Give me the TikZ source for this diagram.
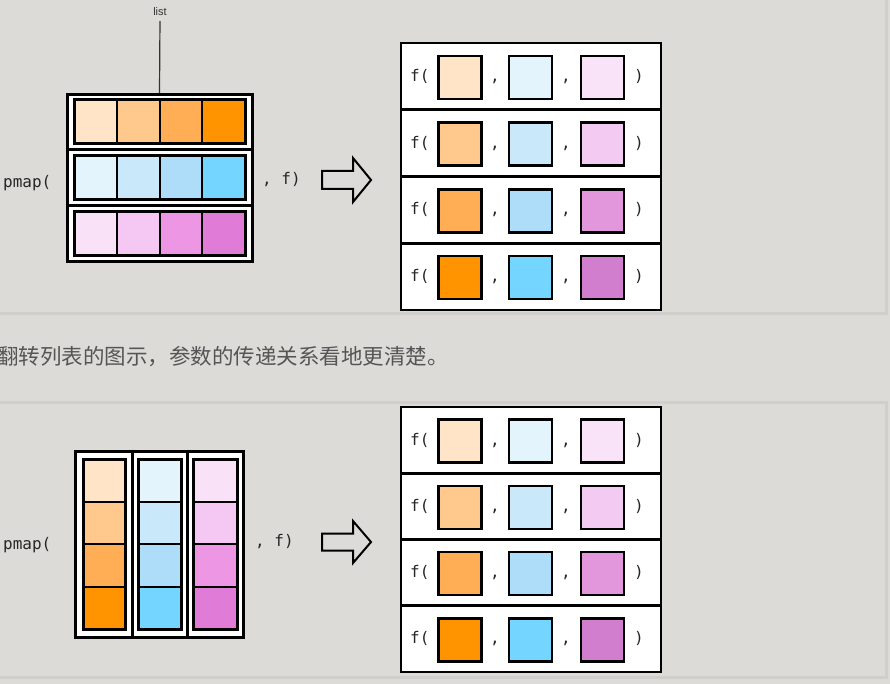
\documentclass[tikz,border=0pt]{standalone}
\usepackage{fontspec}
\newfontfamily\cjk{Noto Sans CJK SC}
\newfontfamily\monof{DejaVu Sans Mono}
\newfontfamily\sansf{Liberation Sans}
\definecolor{bg}{HTML}{DCDBD7}
\definecolor{panelline}{HTML}{D0CFCB}
\definecolor{txtgray}{HTML}{555555}
\definecolor{oA}{HTML}{FFE4C8}
\definecolor{oB}{HTML}{FFC98E}
\definecolor{oC}{HTML}{FFAE55}
\definecolor{oD}{HTML}{FF9400}
\definecolor{bA}{HTML}{E3F4FC}
\definecolor{bB}{HTML}{C9E8FA}
\definecolor{bC}{HTML}{AEDDF9}
\definecolor{bD}{HTML}{74D5FF}
\definecolor{pA}{HTML}{F9E2F8}
\definecolor{pB}{HTML}{F4C8F3}
\definecolor{pC}{HTML}{ED96E3}
\definecolor{pD}{HTML}{E07BD8}
\definecolor{qA}{HTML}{F8E3F8}
\definecolor{qB}{HTML}{F3CAF2}
\definecolor{qC}{HTML}{E297DD}
\definecolor{qD}{HTML}{D27ECF}
\tikzset{
  panel/.style={draw=panelline, line width=3pt, fill=bg},
  code/.style={font=\monof\fontsize{16}{16}\selectfont, inner sep=0pt, text=black!85},
  frame/.style={draw=black, line width=3pt, fill=white, inner sep=0pt},
  inbox/.style={draw=black, line width=3pt, inner sep=0pt},
  celldiv/.style={draw=black, line width=2pt},
  rowbox/.style={draw=black, line width=2.6pt, fill=white, inner sep=0pt, minimum width=260pt},
  sq/.style={draw=black, line width=2.6pt, inner sep=0pt, minimum width=43pt, minimum height=43pt},
  bigarrow/.style={draw=black, line width=2pt, line join=miter},
}
\begin{document}
\begin{tikzpicture}[x=1pt,y=-1pt]
\useasboundingbox (0,0) rectangle (890,684);
\fill[bg] (0,0) rectangle (890,684);
\path[panel] (-5,-5) rectangle (886,313);
\path[panel] (-5,402) rectangle (886,677);

% ---------------- top panel ----------------
\node[font=\sansf\fontsize{11}{11}\selectfont, text=black!80, inner sep=1pt] (list) at (160,12) {list};
\node[frame, minimum width=185pt, minimum height=167pt] (outerA) at (159.5,178.25) {};
\draw[line width=3pt] (outerA.west |- 0,150) -- (outerA.east |- 0,150);
\draw[line width=3pt] (outerA.west |- 0,206) -- (outerA.east |- 0,206);
\draw[line width=1.2pt, black!80, shorten <=4pt] (list.south) -- (outerA.north);
\foreach \y/\ca/\cb/\cc/\cd in {100/oA/oB/oC/oD, 156/bA/bB/bC/bD, 212/pA/pB/pC/pD}{
  \fill[\ca] (74,\y) rectangle ++(42.75,44);
  \fill[\cb] (116.75,\y) rectangle ++(42.75,44);
  \fill[\cc] (159.5,\y) rectangle ++(42.75,44);
  \fill[\cd] (202.25,\y) rectangle ++(42.75,44);
  \foreach \k in {1,2,3}{ \draw[celldiv] ({74+\k*42.75},\y) -- ++(0,44); }
  \draw[line width=3pt] (74,\y) rectangle ++(171,44);
}
\node[code, anchor=west] (pmapA) at (3,183) {pmap(};
\node[code, anchor=west] (fA) at (262,180) {, f)};
\coordinate (arA) at (322,171);
\draw[bigarrow] (arA) -- ++(31,0) -- ++(0,-13) -- ++(18,22) -- ++(-18,22) -- ++(0,-13) -- ++(-31,0) -- cycle;

% right top
\foreach \r/\ca/\cb/\cc in {1/oA/bA/qA, 2/oB/bB/qB, 3/oC/bC/qC, 4/oD/bD/qD}{
  \node[rowbox, minimum height=66.75pt] (RA\r) at (531,{43+(\r-0.5)*66.75}) {};
  \node[sq, fill=\ca] (RAa\r) at (460,{44+(\r-0.5)*66.75}) {};
  \node[sq, fill=\cb] (RAb\r) at (530.5,{44+(\r-0.5)*66.75}) {};
  \node[sq, fill=\cc] (RAc\r) at (602.5,{44+(\r-0.5)*66.75}) {};
  \node[code, anchor=west] (RAf\r) at (410,{43+(\r-0.5)*66.75}) {f(};
  \node[code] (RAk\r) at (495,{48+(\r-0.5)*66.75}) {,};
  \node[code] (RAm\r) at (566,{48+(\r-0.5)*66.75}) {,};
  \node[code] (RAp\r) at (639,{43+(\r-0.5)*66.75}) {)};
}

% ---------------- middle text ----------------
\node[font=\cjk\fontsize{21.5}{21.5}\selectfont, text=txtgray, inner sep=0pt, anchor=west] (caption) at (-3,357) {翻转列表的图示，参数的传递关系看地更清楚。};

% ---------------- bottom panel ----------------
\node[frame, minimum width=168pt, minimum height=186pt] (outerB) at (159,544) {};
\draw[line width=3pt] (132,0 |- outerB.north) -- (132,0 |- outerB.south);
\draw[line width=3pt] (187,0 |- outerB.north) -- (187,0 |- outerB.south);
\foreach \x/\ca/\cb/\cc/\cd/\w in {83/oA/oB/oC/oD/42, 138/bA/bB/bC/bD/43, 193/pA/pB/pC/pD/44}{
  \fill[\ca] (\x,459) rectangle ++(\w,42.5);
  \fill[\cb] (\x,501.5) rectangle ++(\w,42.5);
  \fill[\cc] (\x,544) rectangle ++(\w,42.5);
  \fill[\cd] (\x,586.5) rectangle ++(\w,42.5);
  \foreach \k in {1,2,3}{ \draw[celldiv] (\x,{459+\k*42.5}) -- ++(\w,0); }
  \draw[line width=3pt] (\x,459) rectangle ++(\w,170);
}
\node[code, anchor=west] (pmapB) at (3,545) {pmap(};
\node[code, anchor=west] (fB) at (255,542) {, f)};
\coordinate (arB) at (322,533.5);
\draw[bigarrow] (arB) -- ++(31,0) -- ++(0,-12.5) -- ++(18,21) -- ++(-18,21) -- ++(0,-12.5) -- ++(-31,0) -- cycle;

% right bottom
\foreach \r/\ca/\cb/\cc in {1/oA/bA/qA, 2/oB/bB/qB, 3/oC/bC/qC, 4/oD/bD/qD}{
  \node[rowbox, minimum height=66.25pt] (RB\r) at (531,{407+(\r-0.5)*66.25}) {};
  \node[sq, fill=\ca] (RBa\r) at (460,{408+(\r-0.5)*66.25}) {};
  \node[sq, fill=\cb] (RBb\r) at (530.5,{408+(\r-0.5)*66.25}) {};
  \node[sq, fill=\cc] (RBc\r) at (602.5,{408+(\r-0.5)*66.25}) {};
  \node[code, anchor=west] (RBf\r) at (410,{407+(\r-0.5)*66.25}) {f(};
  \node[code] (RBk\r) at (495,{412+(\r-0.5)*66.25}) {,};
  \node[code] (RBm\r) at (566,{412+(\r-0.5)*66.25}) {,};
  \node[code] (RBp\r) at (639,{407+(\r-0.5)*66.25}) {)};
}
\end{tikzpicture}
\end{document}
